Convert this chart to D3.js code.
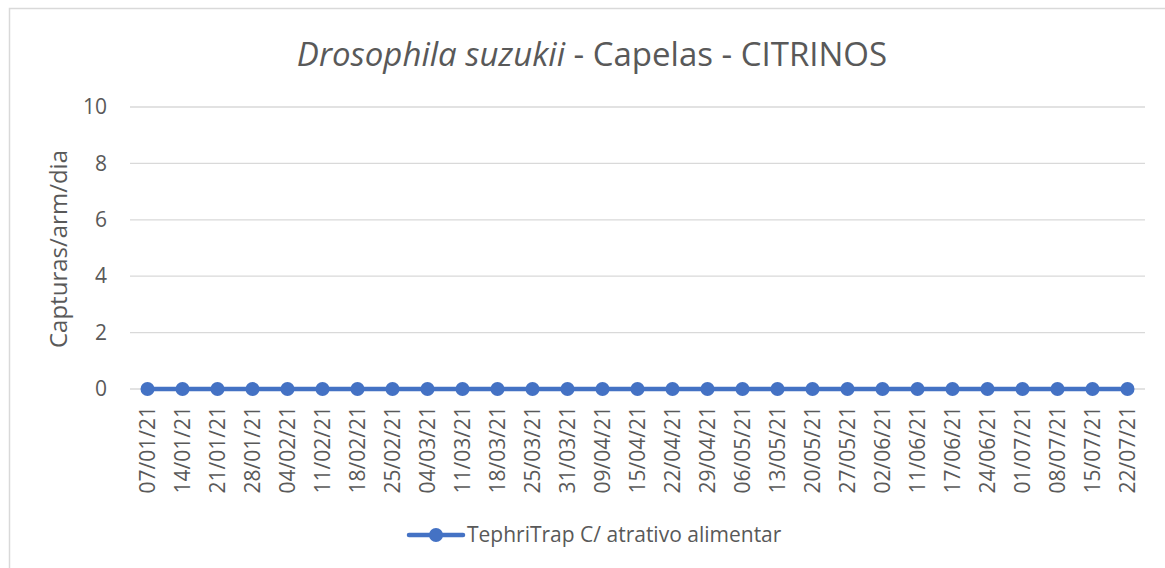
<!DOCTYPE html>
<html><head><meta charset="utf-8">
<script src="https://cdn.jsdelivr.net/npm/d3@7"></script>
<style>
html,body{margin:0;padding:0;background:#fff;}
svg{display:block;}
text{font-family:"Open Sans",sans-serif;fill:#595959;}
</style></head>
<body><svg id="c" width="1165" height="568"></svg>
<script>
const dates = ["07/01/21","14/01/21","21/01/21","28/01/21","04/02/21","11/02/21","18/02/21","25/02/21","04/03/21","11/03/21","18/03/21","25/03/21","31/03/21","09/04/21","15/04/21","22/04/21","29/04/21","06/05/21","13/05/21","20/05/21","27/05/21","02/06/21","11/06/21","17/06/21","24/06/21","01/07/21","08/07/21","15/07/21","22/07/21"];
const captures = [0,0,0,0,0,0,0,0,0,0,0,0,0,0,0,0,0,0,0,0,0,0,0,0,0,0,0,0,0];
const yTicks = [0,2,4,6,8,10];
const seriesName = "TephriTrap C/ atrativo alimentar";
const titleItalic = "Drosophila suzukii";
const titleRest = " - Capelas - CITRINOS";
const yTitle = "Capturas/arm/dia";

const svg = d3.select("#c");
const color = "#4472C4";
svg.append("rect").attr("x",9.5).attr("y",8.5).attr("width",1170).attr("height",580)
  .attr("fill","#fff").attr("stroke","#D9D9D9").attr("stroke-width",1.5);

const x = d3.scaleBand().domain(dates).range([130,1145]);
const y = d3.scaleLinear().domain([0,10]).range([389,107]);

// grid
svg.append("g").selectAll("line").data(yTicks).join("line")
  .attr("x1",130).attr("x2",1145).attr("y1",d=>y(d)).attr("y2",d=>y(d))
  .attr("stroke","#D9D9D9").attr("stroke-width",1.3);

// y axis
const ya = svg.append("g").attr("transform","translate(130,0)")
  .call(d3.axisLeft(y).tickValues(yTicks).tickSize(0).tickPadding(23));
ya.select(".domain").remove();
ya.selectAll("text").attr("font-size",21).style("font-family","Open Sans").attr("fill","#595959");

// x axis
const xa = svg.append("g").attr("transform","translate(0,389)")
  .call(d3.axisBottom(x).tickSize(0));
xa.select(".domain").remove();
xa.selectAll("text").attr("font-size",21).style("font-family","Open Sans").attr("fill","#595959")
  .attr("transform","rotate(-90)").attr("text-anchor","end")
  .attr("x",-17).attr("y",0).attr("dy","0.35em");

// line
const line = d3.line().x((d,i)=>x(dates[i])+x.bandwidth()/2).y(d=>y(d));
svg.append("path").datum(captures).attr("d",line).attr("fill","none")
  .attr("stroke",color).attr("stroke-width",4.5).attr("stroke-linecap","round");
svg.append("g").selectAll("circle").data(captures).join("circle")
  .attr("cx",(d,i)=>x(dates[i])+x.bandwidth()/2).attr("cy",d=>y(d)).attr("r",7)
  .attr("fill",color);

// title
const t = svg.append("text").attr("x",592).attr("y",66).attr("text-anchor","middle").attr("font-size",33);
t.append("tspan").attr("font-style","italic").text(titleItalic);
t.append("tspan").text(titleRest);

// y title
svg.append("text").attr("transform","translate(67,249) rotate(-90)").attr("text-anchor","middle")
  .attr("font-size",24).text(yTitle);

// legend
const lg = svg.append("g");
lg.append("line").attr("x1",409).attr("x2",463).attr("y1",535).attr("y2",535)
  .attr("stroke",color).attr("stroke-width",4.5).attr("stroke-linecap","round");
lg.append("circle").attr("cx",436).attr("cy",535).attr("r",7).attr("fill",color);
lg.append("text").attr("x",467).attr("y",535).attr("dy","0.35em").attr("font-size",21).text(seriesName);
</script></body></html>
